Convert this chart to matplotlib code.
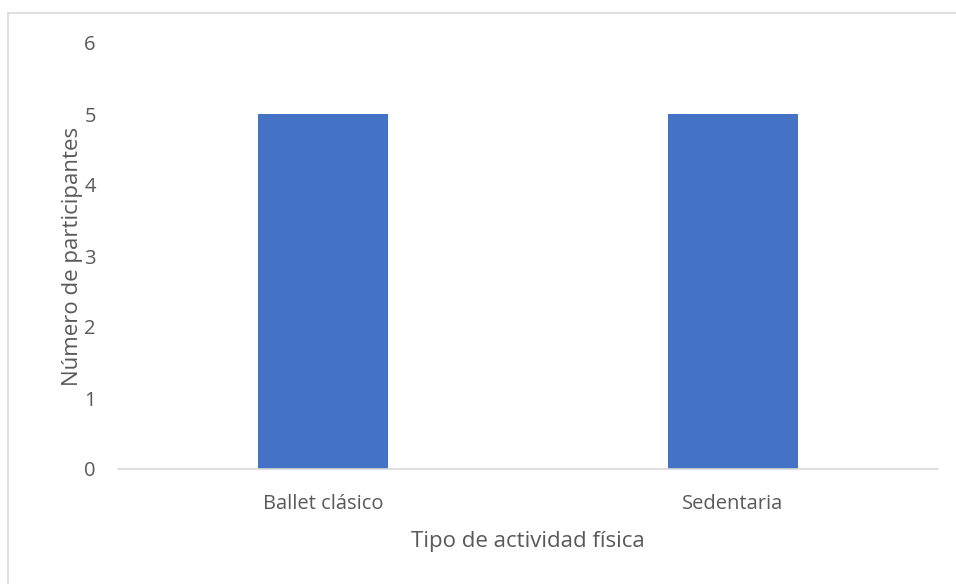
import matplotlib
matplotlib.use('Agg')
import matplotlib.pyplot as plt
from matplotlib.patches import Rectangle

# Chart data
categories = ['Ballet clásico', 'Sedentaria']
participants = [5, 5]
y_ticks = [0, 1, 2, 3, 4, 5, 6]

plt.rcParams['font.family'] = ['Open Sans', 'DejaVu Sans']
text_color = '#595959'

W, H = 956, 584
fig = plt.figure(figsize=(W / 100, H / 100), dpi=100)

# Outer chart border (cropped at right and bottom like the reference)
fig.patches.append(Rectangle((8 / W, -0.05), 1.2, (H - 13) / H + 0.05,
                             transform=fig.transFigure, fill=False,
                             edgecolor='#d9d9d9', linewidth=1.2))

ax = fig.add_axes([118 / W, 115 / H, (938 - 118) / W, (469 - 43) / H])
x = range(len(categories))
ax.bar(x, participants, width=0.315, color='#4472c4')

ax.set_xlim(-0.5, len(categories) - 0.5)
ax.set_ylim(0, 6)
ax.set_yticks(y_ticks)
ax.set_xticks(list(x))
ax.set_xticklabels(categories)

for side in ['top', 'right', 'left']:
    ax.spines[side].set_visible(False)
ax.spines['bottom'].set_color('#d9d9d9')
ax.spines['bottom'].set_linewidth(1.2)
ax.tick_params(axis='both', length=0, labelsize=14.5, colors=text_color)
ax.tick_params(axis='y', pad=16)
ax.tick_params(axis='x', pad=18)

ax.set_xlabel('Tipo de actividad física', fontsize=16, color=text_color, labelpad=12)
ax.set_ylabel('Número de participantes', fontsize=16, color=text_color, labelpad=1)

fig.savefig('out.png', dpi=100)
